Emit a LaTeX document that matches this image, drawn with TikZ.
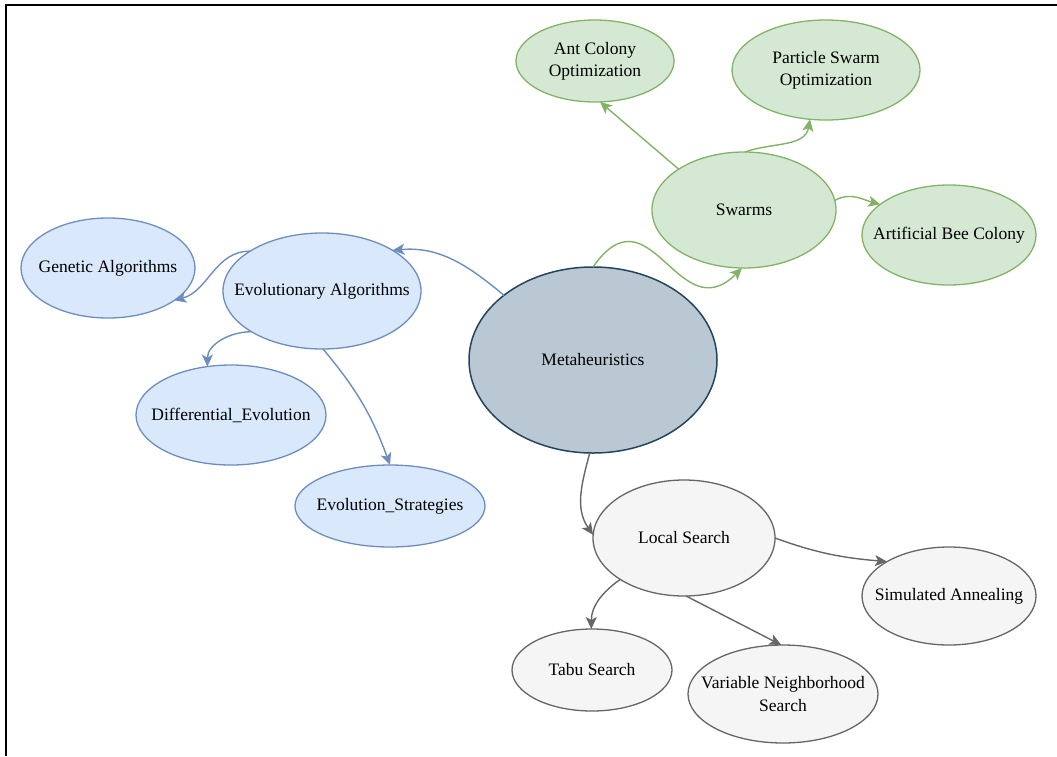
\documentclass[tikz,border=0pt]{standalone}
\usepackage{fontspec}
\setmainfont{Liberation Serif}
\usepackage{tikz}
\usetikzlibrary{arrows.meta,shapes.geometric}
\definecolor{bluefill}{HTML}{DAE8FC}
\definecolor{blueline}{HTML}{6C8EBF}
\definecolor{greenfill}{HTML}{D5E8D4}
\definecolor{greenline}{HTML}{82B366}
\definecolor{grayfill}{HTML}{F5F5F5}
\definecolor{grayline}{HTML}{666666}
\definecolor{metafill}{HTML}{BAC8D3}
\definecolor{metaline}{HTML}{23445D}
\tikzset{>/.tip={Stealth[length=12pt,width=11pt,inset=3pt]},
  bubble/.style={ellipse, draw, line width=1.3pt, inner sep=-60pt, outer sep=0pt,
    align=center, text=black, font=\fontsize{17.5}{22}\selectfont},
  meta node/.style={bubble, fill=metafill, draw=metaline, line width=1.5pt},
  evo node/.style={bubble, fill=bluefill, draw=blueline},
  swarm node/.style={bubble, fill=greenfill, draw=greenline},
  ls node/.style={bubble, fill=grayfill, draw=grayline},
  evo edge/.style={->, draw=blueline, line width=1.4pt},
  swarm edge/.style={->, draw=greenline, line width=1.4pt},
  ls edge/.style={->, draw=grayline, line width=1.4pt}}

\begin{document}
\begin{tikzpicture}[x=1pt,y=-1pt]
\useasboundingbox (0,0) rectangle (1057,756);
\draw[line width=2pt] (6,756) -- (6,5) -- (1057,5);

\node[meta node, minimum width=248pt, minimum height=186pt] (meta) at (593,360) {Metaheuristics};

\node[evo node, minimum width=198pt, minimum height=116pt] (evo) at (322,291) {Evolutionary Algorithms};
\node[evo node, minimum width=174pt, minimum height=100pt] (ga) at (108,268) {Genetic Algorithms};
\node[evo node, minimum width=190pt, minimum height=100pt] (de) at (231,415) {Differential\_Evolution};
\node[evo node, minimum width=190pt, minimum height=82pt] (es) at (390,506) {Evolution\_Strategies};

\node[swarm node, minimum width=184pt, minimum height=116pt] (swarms) at (744,210) {Swarms};
\node[swarm node, minimum width=158pt, minimum height=82pt] (aco) at (595,61) {Ant Colony\\Optimization};
\node[swarm node, minimum width=188pt, minimum height=100pt] (pso) at (826,70) {Particle Swarm\\Optimization};
\node[swarm node, minimum width=174pt, minimum height=100pt] (abc) at (949,235) {Artificial Bee Colony};

\node[ls node, minimum width=182pt, minimum height=116pt] (ls) at (684,538) {Local Search};
\node[ls node, minimum width=174pt, minimum height=98pt] (sa) at (949,596) {Simulated Annealing};
\node[ls node, minimum width=160pt, minimum height=82pt] (tabu) at (592,670) {Tabu Search};
\node[ls node, minimum width=190pt, minimum height=98pt] (vns) at (783,694) {Variable Neighborhood\\Search};

\draw[evo edge] (meta.144) to[out=140,in=5] (evo.30);
\draw[evo edge] (evo.151) to[out=180,in=15] (ga.334);
\draw[evo edge] (evo.210) to[out=180,in=90] (de.116);
\draw[evo edge] (evo.-89) to[out=-50,in=110] (es.90);

\draw[swarm edge] (meta.90) .. controls +(55:100pt) and +(225:90pt) .. (swarms.268);
\draw[swarm edge] (swarms.148) -- (aco.-83);
\draw[swarm edge] (swarms.89) to[out=20,in=260] (pso.252);
\draw[swarm edge] (swarms.6) to[out=30,in=165] (abc.156);

\draw[ls edge] (meta.-92) to[out=255,in=125] (ls.178);
\draw[ls edge] (ls.0) to[out=-20,in=175] (sa.151);
\draw[ls edge] (ls.213) to[out=215,in=90] (tabu.91);
\draw[ls edge] (ls.-88) -- (vns.92);
\end{tikzpicture}
\end{document}
